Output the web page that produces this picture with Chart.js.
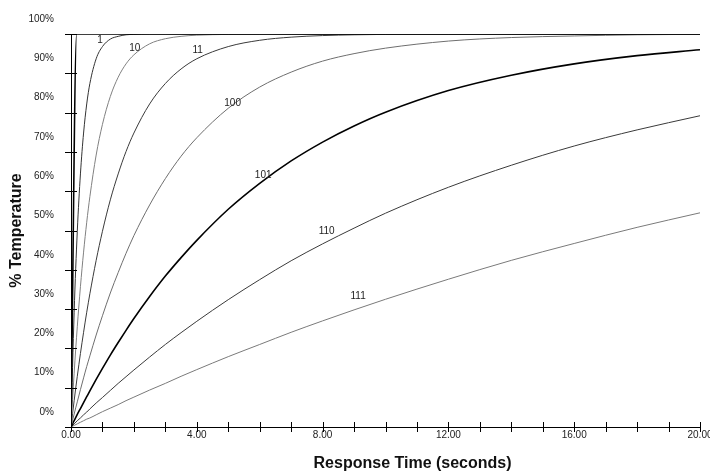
<!DOCTYPE html>
<html>
<head>
<meta charset="utf-8">
<script src="https://cdn.jsdelivr.net/npm/chart.js@4/dist/chart.umd.min.js"></script>
<style>
  html, body { margin: 0; padding: 0; background: #fff; }
  #wrap { width: 710px; height: 473px; }
</style>
</head>
<body>
<div id="wrap"><canvas id="c" width="710" height="473"></canvas></div>
<script>
// Response time samples (seconds)
const times = [0, 0.1, 0.2, 0.3, 0.4, 0.5, 0.6, 0.8, 1, 1.25, 1.5, 1.75, 2, 2.5, 3, 3.5, 4, 5, 6, 7, 8, 9, 10, 12, 14, 16, 18, 20];

// % Temperature read for each curve
const curve0Times = [0, 0.18, 20];
const curve0 = [0, 100, 100];
const curve1 = [0, 29.2, 49.8, 64.4, 74.8, 82.2, 87.4, 93.7, 96.8, 98.7, 99.4, 99.8, 99.9, 100, 100, 100, 100, 100, 100, 100, 100, 100, 100, 100, 100, 100, 100, 100];
const curve10 = [0, 13.7, 25.5, 35.7, 44.5, 52.1, 58.6, 69.2, 77.0, 84.1, 89.0, 92.4, 94.7, 97.5, 98.8, 99.4, 99.7, 99.9, 100, 100, 100, 100, 100, 100, 100, 100, 100, 100];
const curve11 = [0, 6.7, 12.9, 18.7, 24.1, 29.2, 33.9, 42.4, 49.8, 57.8, 64.4, 70.1, 74.8, 82.2, 87.4, 91.1, 93.7, 96.8, 98.4, 99.2, 99.6, 99.8, 99.9, 100, 100, 100, 100, 100];
const curve100 = [0, 3.3, 6.4, 9.5, 12.5, 15.4, 18.1, 23.4, 28.3, 34.1, 39.3, 44.2, 48.7, 56.5, 63.2, 68.9, 73.6, 81.1, 86.5, 90.3, 93.1, 95.0, 96.4, 98.2, 99.1, 99.5, 99.8, 99.9];
const curve101 = [0, 1.6, 3.2, 4.7, 6.2, 7.7, 9.2, 12.1, 14.9, 18.3, 21.5, 24.6, 27.6, 33.2, 38.4, 43.1, 47.5, 55.4, 62.0, 67.7, 72.5, 76.6, 80.1, 85.6, 89.5, 92.4, 94.5, 96.0];
const curve110 = [0, 0.8, 1.6, 2.3, 3.1, 3.8, 4.6, 6.1, 7.5, 9.3, 11.1, 12.8, 14.5, 17.8, 21.0, 24.0, 26.9, 32.4, 37.5, 42.3, 46.6, 50.6, 54.4, 61.0, 66.6, 71.5, 75.6, 79.2];
const curve111 = [0, 0.4, 0.8, 1.2, 1.6, 2.0, 2.3, 3.1, 3.9, 4.8, 5.7, 6.7, 7.6, 9.4, 11.1, 12.9, 14.6, 17.9, 21.0, 24.1, 27.0, 29.8, 32.5, 37.6, 42.4, 46.7, 50.8, 54.5];

// Curve labels and where they sit (seconds, %)
const labelTexts = ['1', '10', '11', '100', '101', '110', '111'];
const labelTimes = [0.92, 2.03, 4.03, 5.14, 6.11, 8.13, 9.13];
const labelValues = [98.4, 96.4, 95.8, 82.5, 64.0, 49.9, 33.2];

// Axis ticks
const xMin = 0, xMax = 20, xMinorStep = 1, xLabelEvery = 4;
const yMin = 0, yMax = 100, yStep = 10;

const FONT = "'Liberation Sans', Arial, Helvetica, sans-serif";

function pts(xs, ys) { return xs.map((x, i) => ({ x: x, y: ys[i] })); }

const seriesDefs = [
  { name: '0',   xs: curve0Times, ys: curve0,   color: '#000000', width: 1.6 },
  { name: '1',   xs: times, ys: curve1,   color: '#333333', width: 1 },
  { name: '10',  xs: times, ys: curve10,  color: '#808080', width: 1 },
  { name: '11',  xs: times, ys: curve11,  color: '#3a3a3a', width: 1 },
  { name: '100', xs: times, ys: curve100, color: '#6e6e6e', width: 1 },
  { name: '101', xs: times, ys: curve101, color: '#000000', width: 1.6 },
  { name: '110', xs: times, ys: curve110, color: '#3a3a3a', width: 1 },
  { name: '111', xs: times, ys: curve111, color: '#7a7a7a', width: 1 }
];

const crossTicks = {
  id: 'crossTicks',
  afterDatasetsDraw(chart) {
    const ctx = chart.ctx;
    const xs = chart.scales.x, ys = chart.scales.y;
    const axisY = ys.getPixelForValue(yMin);
    const axisX = xs.getPixelForValue(xMin);
    ctx.save();
    ctx.strokeStyle = '#000';
    ctx.lineWidth = 1;
    ctx.beginPath();
    for (let v = xMin; v <= xMax; v += xMinorStep) {
      const px = Math.round(xs.getPixelForValue(v)) + 0.5;
      ctx.moveTo(px, axisY - 5);
      ctx.lineTo(px, axisY + 5);
    }
    for (let v = yMin; v <= yMax; v += yStep) {
      const py = Math.round(ys.getPixelForValue(v)) + 0.5;
      ctx.moveTo(axisX - 6, py);
      ctx.lineTo(axisX + 6, py);
    }
    ctx.stroke();
    ctx.restore();
  }
};

const curveLabels = {
  id: 'curveLabels',
  afterDatasetsDraw(chart) {
    const ctx = chart.ctx;
    const xs = chart.scales.x, ys = chart.scales.y;
    ctx.save();
    ctx.font = '10px ' + FONT;
    ctx.fillStyle = '#222';
    ctx.textAlign = 'center';
    ctx.textBaseline = 'middle';
    labelTexts.forEach((t, i) => {
      ctx.fillText(t, xs.getPixelForValue(labelTimes[i]), ys.getPixelForValue(labelValues[i]));
    });
    ctx.restore();
  }
};

const xTitle = {
  id: 'xTitle',
  afterDraw(chart) {
    const ctx = chart.ctx;
    const a = chart.chartArea;
    ctx.save();
    ctx.font = 'bold 16px ' + FONT;
    ctx.fillStyle = '#111';
    ctx.textAlign = 'center';
    ctx.textBaseline = 'middle';
    ctx.fillText('Response Time (seconds)', a.left + (a.right - a.left) * 0.543, a.bottom + 37);
    ctx.restore();
  }
};

new Chart(document.getElementById('c'), {
  type: 'line',
  data: {
    datasets: seriesDefs.map(s => ({
      label: s.name,
      data: pts(s.xs, s.ys),
      borderColor: s.color,
      borderWidth: s.width,
      pointRadius: 0,
      fill: false,
      cubicInterpolationMode: 'monotone'
    }))
  },
  options: {
    responsive: false,
    animation: false,
    events: [],
    layout: { padding: { top: 34, right: 10, left: 0, bottom: 0 } },
    plugins: { legend: { display: false }, tooltip: { enabled: false }, title: { display: false } },
    scales: {
      x: {
        type: 'linear',
        min: xMin, max: xMax,
        grid: { display: false, drawTicks: false },
        border: { display: true, color: '#000', width: 1 },
        ticks: {
          stepSize: xMinorStep,
          autoSkip: false,
          maxRotation: 0,
          padding: 2,
          color: '#222',
          font: { family: FONT, size: 10 },
          callback: v => (v % xLabelEvery === 0 ? v.toFixed(2) : '')
        },
        afterFit(s) { s.height = 46; s.paddingLeft = 0; s.paddingRight = 0; }
      },
      y: {
        min: yMin, max: yMax,
        grid: { display: false, drawTicks: false },
        border: { display: true, color: '#000', width: 1 },
        ticks: {
          stepSize: yStep,
          padding: 17,
          labelOffset: -15,
          color: '#222',
          font: { family: FONT, size: 10 },
          callback: v => v + '%'
        },
        title: {
          display: true,
          text: '% Temperature',
          color: '#111',
          font: { family: FONT, size: 16, weight: 'bold' },
          padding: { top: 7, bottom: 0 }
        },
        afterFit(s) { s.width = 71; }
      }
    }
  },
  plugins: [crossTicks, curveLabels, xTitle]
});
</script>
</body>
</html>
